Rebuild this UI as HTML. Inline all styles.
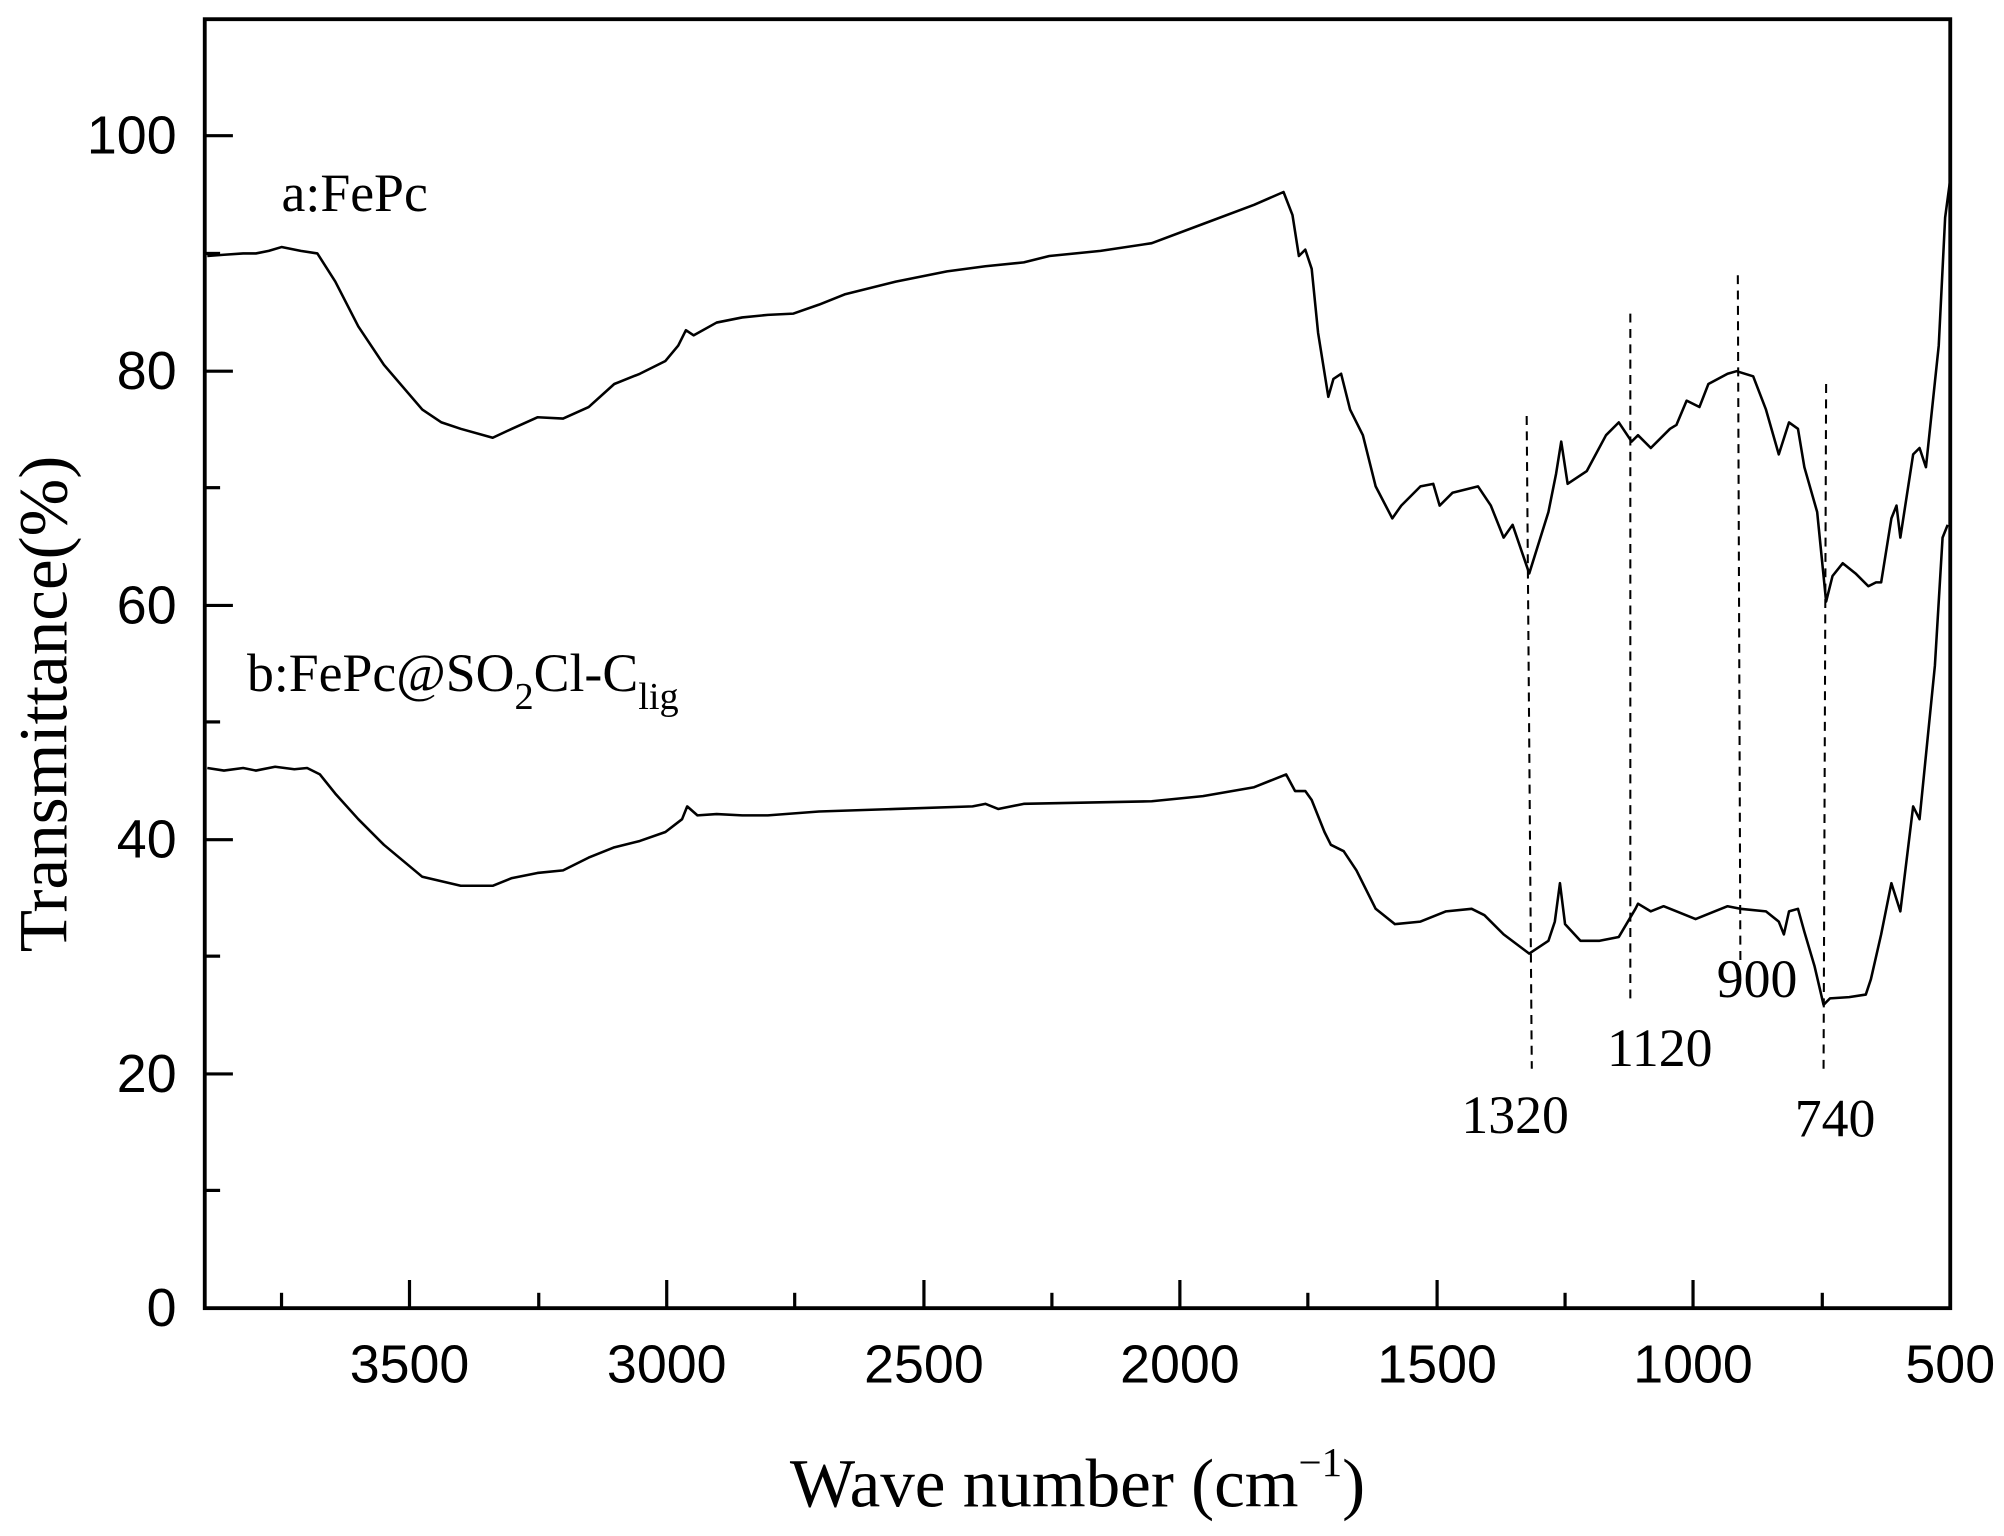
<!DOCTYPE html>
<html><head><meta charset="utf-8"><style>
html,body{margin:0;padding:0;background:#fff;}
svg{display:block;}
</style></head><body>
<svg width="2004" height="1536" viewBox="0 0 1566 1200" preserveAspectRatio="none" xmlns="http://www.w3.org/2000/svg">
<rect width="1566" height="1200" fill="#fff"/>
<g stroke="#000" stroke-width="2" fill="none" stroke-linejoin="round">
<polyline points="162,200 175,199 190,198 200,198 210,196 220,193 235,196 248,198 262,220 280,255 300,285 330,320 345,330 360,335 385,342 400,335 420,326 440,327 460,318 480,300 500,292 520,282 530,270 536,258 542,262 560,252 580,248 600,246 620,245 640,238 660,230 700,220 740,212 770,208 800,205 820,200 860,196 900,190 940,175 980,160 1003,150 1010,168 1015,200 1020,195 1025,210 1030,260 1038,310 1042,296 1048,292 1055,320 1065,340 1075,380 1088,405 1095,395 1110,380 1120,378 1125,395 1135,385 1155,380 1165,395 1175,420 1182,410 1195,448 1210,400 1216,370 1220,345 1225,378 1240,368 1255,340 1265,330 1275,345 1280,340 1290,350 1305,335 1310,332 1318,313 1328,318 1335,300 1350,292 1357,290 1370,294 1380,320 1390,355 1398,330 1405,335 1410,365 1420,400 1427,470 1432,450 1440,440 1450,448 1460,458 1466,455 1470,455 1478,405 1482,395 1485,420 1495,355 1500,350 1505,365 1515,270 1520,170 1524,140"/>
<polyline points="162,600 175,602 190,600 200,602 215,599 230,601 240,600 250,605 262,620 280,640 300,660 330,685 360,692 385,692 400,686 420,682 440,680 460,670 480,662 500,657 520,650 533,640 537,630 545,637 560,636 580,637 600,637 640,634 700,632 760,630 770,628 780,632 800,628 900,626 940,622 980,615 1005,605 1012,618 1020,618 1025,625 1035,650 1040,660 1050,665 1060,680 1075,710 1090,722 1110,720 1130,712 1150,710 1160,715 1175,730 1195,745 1210,735 1215,720 1219,690 1223,722 1235,735 1250,735 1265,732 1278,710 1280,706 1290,712 1300,708 1310,712 1325,718 1340,712 1350,708 1360,710 1380,712 1390,720 1394,730 1398,712 1405,710 1410,728 1418,755 1425,785 1430,780 1445,779 1458,777 1462,765 1470,730 1478,690 1485,712 1495,630 1500,640 1505,590 1512,520 1518,420 1522,410"/>
</g>
<g stroke="#000" stroke-width="1.6" stroke-dasharray="7,5">
<line x1="1193" y1="325" x2="1197" y2="835"/>
<line x1="1274" y1="245" x2="1274" y2="780"/>
<line x1="1358" y1="215" x2="1360" y2="750"/>
<line x1="1427" y1="300" x2="1425" y2="835"/>
</g>
<rect x="160" y="15" width="1364" height="1007" fill="none" stroke="#000" stroke-width="3"/>
<g stroke="#000" stroke-width="2.5">
<line x1="160" y1="1022" x2="182" y2="1022"/><line x1="160" y1="839" x2="182" y2="839"/><line x1="160" y1="656" x2="182" y2="656"/><line x1="160" y1="473" x2="182" y2="473"/><line x1="160" y1="290" x2="182" y2="290"/><line x1="160" y1="106" x2="182" y2="106"/>
<line x1="160" y1="930" x2="172" y2="930"/><line x1="160" y1="747" x2="172" y2="747"/><line x1="160" y1="564" x2="172" y2="564"/><line x1="160" y1="381" x2="172" y2="381"/><line x1="160" y1="198" x2="172" y2="198"/>
<line x1="320" y1="1022" x2="320" y2="1000"/><line x1="521" y1="1022" x2="521" y2="1000"/><line x1="722" y1="1022" x2="722" y2="1000"/><line x1="922" y1="1022" x2="922" y2="1000"/><line x1="1123" y1="1022" x2="1123" y2="1000"/><line x1="1323" y1="1022" x2="1323" y2="1000"/>
<line x1="220" y1="1022" x2="220" y2="1010"/><line x1="421" y1="1022" x2="421" y2="1010"/><line x1="621" y1="1022" x2="621" y2="1010"/><line x1="822" y1="1022" x2="822" y2="1010"/><line x1="1022" y1="1022" x2="1022" y2="1010"/><line x1="1223" y1="1022" x2="1223" y2="1010"/><line x1="1424" y1="1022" x2="1424" y2="1010"/>
</g>
<g font-family="Liberation Sans, Arial, sans-serif" font-size="42" fill="#000" text-anchor="end">
<text x="138" y="1036">0</text><text x="138" y="853">20</text><text x="138" y="670">40</text><text x="138" y="487">60</text><text x="138" y="304">80</text><text x="138" y="120">100</text>
</g>
<g font-family="Liberation Sans, Arial, sans-serif" font-size="42" fill="#000" text-anchor="middle">
<text x="320" y="1080">3500</text><text x="521" y="1080">3000</text><text x="722" y="1080">2500</text><text x="922" y="1080">2000</text><text x="1123" y="1080">1500</text><text x="1323" y="1080">1000</text><text x="1524" y="1080">500</text>
</g>
<g font-family="Liberation Serif, Times New Roman, serif" fill="#000">
<text x="842" y="1177" font-size="54" text-anchor="middle">Wave number (cm<tspan font-size="32" dy="-24">−1</tspan><tspan dy="24">)</tspan></text>
<text transform="translate(52,550) rotate(-90)" font-size="54" text-anchor="middle">Transmittance(%)</text>
<text x="220" y="165" font-size="42">a:FePc</text>
<text x="193" y="540" font-size="42">b:FePc@SO<tspan font-size="30" dy="14">2</tspan><tspan dy="-14">Cl-C</tspan><tspan font-size="30" dy="14">lig</tspan></text>
<text x="1184" y="885" font-size="42" text-anchor="middle">1320</text>
<text x="1297" y="833" font-size="42" text-anchor="middle">1120</text>
<text x="1373" y="779" font-size="42" text-anchor="middle">900</text>
<text x="1434" y="888" font-size="42" text-anchor="middle">740</text>
</g>
</svg>
</body></html>
